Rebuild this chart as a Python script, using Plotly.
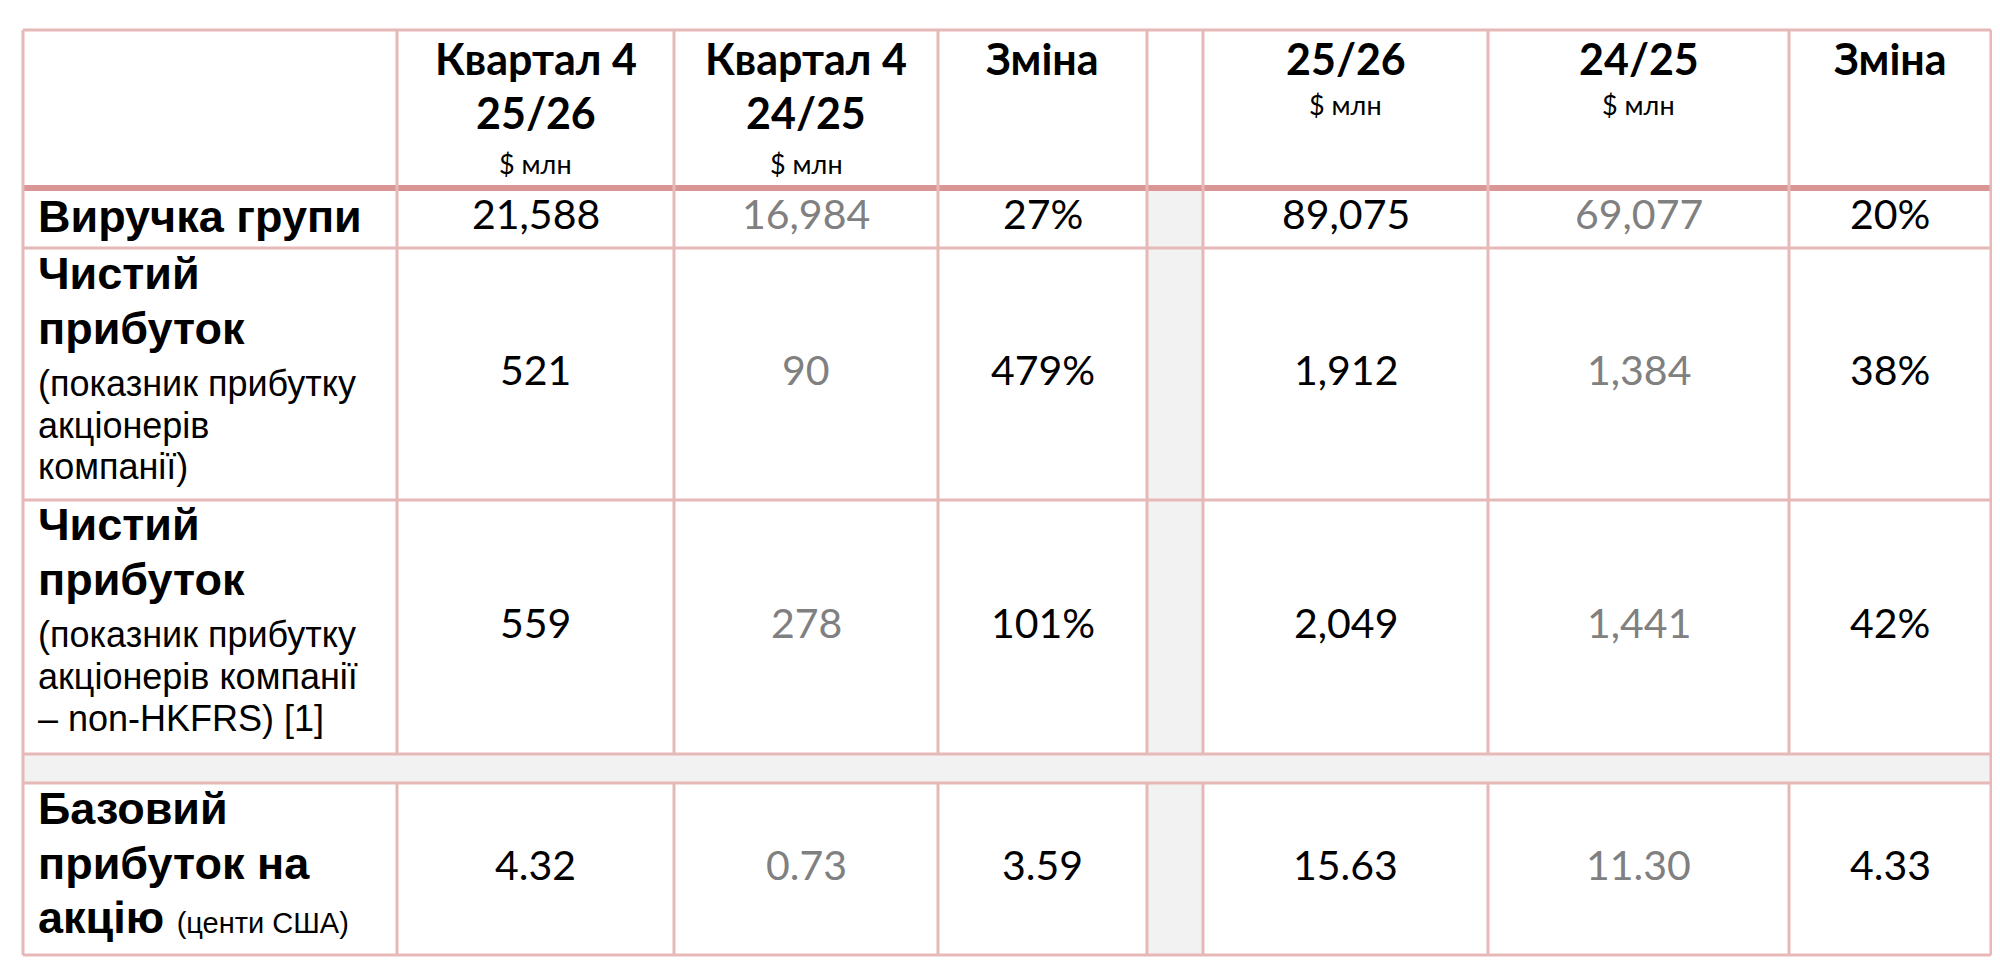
import plotly.graph_objects as go

# ---- data ----
col_headers_main = ["Квартал 4", "Квартал 4", "Зміна", "", "25/26", "24/25", "Зміна"]
col_headers_sub1 = ["25/26", "24/25", "", "", "", "", ""]
col_headers_unit = ["$ млн", "$ млн", "", "", "$ млн", "$ млн", ""]
row_titles = [["Виручка групи"], ["Чистий", "прибуток"], ["Чистий", "прибуток"], [], ["Базовий", "прибуток на", "акцію"]]
row_notes = [[], ["(показник прибутку", "акціонерів", "компанії)"],
             ["(показник прибутку", "акціонерів компанії", "– non-HKFRS) [1]"], [], []]
q4_2526 = ["21,588", "521", "559", "", "4.32"]
q4_2425 = ["16,984", "90", "278", "", "0.73"]
q4_change = ["27%", "479%", "101%", "", "3.59"]
fy_2526 = ["89,075", "1,912", "2,049", "", "15.63"]
fy_2425 = ["69,077", "1,384", "1,441", "", "11.30"]
fy_change = ["20%", "38%", "42%", "", "4.33"]

# ---- layout geometry ----
xs = [15, 389, 666, 930, 1139, 1195, 1480, 1781, 1983]
ys = [22, 180, 240, 492, 746, 775, 947]
BORDER = "#E6B9B8"
THICK = "#D99694"
GRAY = "#F2F2F2"
BLACK = "#000000"
GREY_TXT = "#808080"
NUM = "Lato, 'Open Sans', sans-serif"
LBL = "'Liberation Sans', Arial, sans-serif"

fig = go.Figure()
shapes = []
ann = []

shapes.append(dict(type="rect", x0=xs[4], x1=xs[5], y0=ys[1], y1=ys[6], fillcolor=GRAY, line_width=0, layer="below"))
shapes.append(dict(type="rect", x0=xs[0], x1=xs[-1], y0=ys[4], y1=ys[5], fillcolor=GRAY, line_width=0, layer="below"))

for i, y in enumerate(ys):
    if i == 1:
        continue
    shapes.append(dict(type="line", x0=xs[0], x1=xs[-1], y0=y, y1=y, line=dict(color=BORDER, width=3)))
shapes.append(dict(type="line", x0=xs[0], x1=xs[-1], y0=ys[1], y1=ys[1], line=dict(color=THICK, width=6)))
for j, x in enumerate(xs):
    if j in (0, len(xs) - 1):
        shapes.append(dict(type="line", x0=x, x1=x, y0=ys[0], y1=ys[-1], line=dict(color=BORDER, width=3)))
    else:
        shapes.append(dict(type="line", x0=x, x1=x, y0=ys[0], y1=ys[4], line=dict(color=BORDER, width=3)))
        shapes.append(dict(type="line", x0=x, x1=x, y0=ys[5], y1=ys[6], line=dict(color=BORDER, width=3)))

def A(x, y, t, size, color=BLACK, bold=False, family=NUM, xanchor="center"):
    txt = f"<b>{t}</b>" if bold else t
    ann.append(dict(x=x, y=y, text=txt, showarrow=False, xanchor=xanchor, yanchor="middle",
                    font=dict(size=size, color=color, family=family)))

for j in range(7):
    cx = (xs[j + 1] + xs[j + 2]) / 2
    if col_headers_sub1[j]:
        A(cx, 50, col_headers_main[j], 43, bold=True)
        A(cx, 104, col_headers_sub1[j], 43, bold=True)
        A(cx, 155, col_headers_unit[j], 27)
    elif col_headers_main[j]:
        A(cx, 50, col_headers_main[j], 43, bold=True)
        if col_headers_unit[j]:
            A(cx, 96, col_headers_unit[j], 27)

label_lines_y = [[208], [265, 320, 375, 417, 458], [516, 571, 626, 668, 710], [], [800, 855, 909]]
for r in range(5):
    lines = [(t, True) for t in row_titles[r]] + [(t, False) for t in row_notes[r]]
    for k, (t, b) in enumerate(lines):
        y = label_lines_y[r][k]
        if b:
            if r == 4 and t == "акцію":
                A(28, y, "<b>акцію</b> <span style='font-size:29px'>(центи США)</span>", 45,
                  family=LBL, xanchor="left")
            else:
                A(28, y, t, 45, bold=True, family=LBL, xanchor="left")
        else:
            A(28, y, t, 36, family=LBL, xanchor="left")

cols = [(q4_2526, 2, BLACK), (q4_2425, 3, GREY_TXT), (q4_change, 4, BLACK),
        (fy_2526, 6, BLACK), (fy_2425, 7, GREY_TXT), (fy_change, 8, BLACK)]
for vals, j, color in cols:
    cx = (xs[j - 1] + xs[j]) / 2
    for r, v in enumerate(vals):
        if v:
            cy = (ys[r + 1] + ys[r + 2]) / 2 - 5
            A(cx, cy, v, 41, color=color)

fig.update_layout(
    width=2000, height=969, margin=dict(l=0, r=0, t=0, b=0),
    plot_bgcolor="white", paper_bgcolor="white",
    xaxis=dict(range=[0, 2000], visible=False, fixedrange=True),
    yaxis=dict(range=[969, 0], visible=False, fixedrange=True),
    shapes=shapes, annotations=ann, showlegend=False,
)
fig.write_html("out.html", config={"displayModeBar": False})
